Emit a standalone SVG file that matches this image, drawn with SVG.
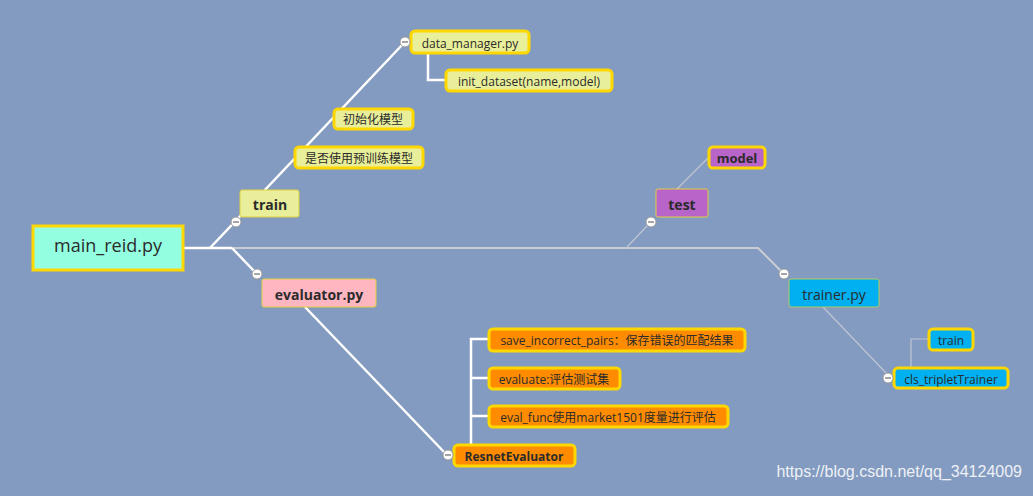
<svg xmlns="http://www.w3.org/2000/svg" width="1033" height="496" viewBox="0 0 1033 496">
<style>
.t{font-family:"Open Sans","Noto Sans","Noto Sans CJK SC",sans-serif;fill:#2b2b2b;text-anchor:middle;dominant-baseline:central}
.s{font-size:12px}
.b{font-weight:bold;font-size:14px}
.w{stroke:#ffffff;stroke-width:2.5;fill:none}
.g{stroke:#c9ccd2;stroke-width:2;fill:none}
.gt{stroke:#bfc6d2;stroke-width:1.2;fill:none}
.hl{stroke:#ffd700;stroke-width:3}
.thin{stroke:#e0d040;stroke-width:1}
.c{fill:#ffffff;stroke:#9a9a9a;stroke-width:1}
</style>
<rect width="1033" height="496" fill="#839bc0"/>
<g id="connectors">
<path class="g" d="M184 248 H758 L782 272"/>
<path class="w" d="M184 248 H232"/>
<path class="w" d="M210 248 L403 44"/>
<path class="w" d="M232 248 L255 272"/>
<path class="gt" d="M626 248 L649 224"/>
<path class="gt" d="M676 190 L708 158"/>
<path class="w" d="M305 307 L445 453"/>
<path class="w" d="M428 53 V80 H445"/>
<path class="w" d="M471 444 V339 H488 M471 378 H488 M471 416 H488"/>
<path class="gt" d="M823 307 L887 374"/>
<path class="gt" d="M911 367 V339 H928"/>
</g>
<g id="main_reid"><rect x="33" y="226" width="150" height="44" fill="#93ffe0" class="hl"/><text class="t" x="108" y="245" style="font-size:18px">main_reid.py</text></g>
<g id="train"><rect x="240" y="190" width="59" height="27" rx="2" fill="#e8ee9a" class="thin"/><text class="t b" x="270" y="204">train</text><circle class="c" cx="236" cy="222" r="5"/><path d="M233 222h6" stroke="#888" stroke-width="1.5"/></g>
<g id="data_manager"><rect x="411" y="31" width="118" height="22" rx="4" fill="#e8ee9a" class="hl"/><text class="t s" x="470" y="43">data_manager.py</text><circle class="c" cx="405" cy="42" r="5"/><path d="M402 42h6" stroke="#888" stroke-width="1.5"/></g>
<g id="init_dataset"><rect x="446" y="70" width="166" height="21" rx="4" fill="#e8ee9a" class="hl"/><text class="t s" x="529" y="81">init_dataset(name,model)</text></g>
<g id="init_model"><rect x="334" y="109" width="79" height="20" rx="4" fill="#e8ee9a" class="hl"/><text class="t s" x="373" y="119">初始化模型</text></g>
<g id="pretrain"><rect x="295" y="147" width="128" height="21" rx="4" fill="#e8ee9a" class="hl"/><text class="t s" x="359" y="158">是否使用预训练模型</text></g>
<g id="evaluator"><rect x="262" y="279" width="114" height="28" rx="2" fill="#ffb6c1" class="thin"/><text class="t b" x="319" y="294">evaluator.py</text><circle class="c" cx="257" cy="274" r="5"/><path d="M254 274h6" stroke="#888" stroke-width="1.5"/></g>
<g id="resnet"><rect x="454" y="445" width="121" height="21" rx="4" fill="#ff8c00" class="hl"/><text class="t" x="514" y="456" style="font-size:12px;font-weight:bold">ResnetEvaluator</text><circle class="c" cx="448" cy="455" r="5"/><path d="M445 455h6" stroke="#888" stroke-width="1.5"/></g>
<g id="save_pairs"><rect x="489" y="329" width="256" height="22" rx="4" fill="#ff8c00" class="hl"/><text class="t s" x="617" y="340">save_incorrect_pairs：保存错误的匹配结果</text></g>
<g id="evaluate"><rect x="489" y="368" width="131" height="21" rx="4" fill="#ff8c00" class="hl"/><text class="t s" x="554" y="379">evaluate:评估测试集</text></g>
<g id="eval_func"><rect x="489" y="406" width="239" height="21" rx="4" fill="#ff8c00" class="hl"/><text class="t s" x="608" y="417">eval_func使用market1501度量进行评估</text></g>
<g id="test"><rect x="656" y="189" width="52" height="28" rx="2" fill="#b864c8" class="thin"/><text class="t b" x="682" y="204">test</text><circle class="c" cx="651" cy="222" r="5"/><path d="M648 222h6" stroke="#888" stroke-width="1.5"/></g>
<g id="model"><rect x="709" y="147" width="56" height="21" rx="4" fill="#b864c8" class="hl"/><text class="t" x="737" y="158" style="font-size:13px;font-weight:bold">model</text></g>
<g id="trainer"><rect x="789" y="279" width="90" height="28" rx="2" fill="#00b0f0" stroke="#b8c860" stroke-width="1"/><text class="t" x="834" y="294" style="font-size:14px">trainer.py</text><circle class="c" cx="784" cy="274" r="5"/><path d="M781 274h6" stroke="#888" stroke-width="1.5"/></g>
<g id="cls_triplet"><rect x="894" y="368" width="114" height="20" rx="4" fill="#00b0f0" class="hl"/><text class="t s" x="951" y="379">cls_tripletTrainer</text><circle class="c" cx="888" cy="378" r="5"/><path d="M885 378h6" stroke="#888" stroke-width="1.5"/></g>
<g id="train2"><rect x="929" y="329" width="44" height="21" rx="4" fill="#00b0f0" class="hl"/><text class="t s" x="951" y="340">train</text></g>
<text x="1022" y="477" style="font-family:'Liberation Sans',Arial,sans-serif;font-size:16px;fill:#eef1f6;text-anchor:end">https://blog.csdn.net/qq_34124009</text>
</svg>
